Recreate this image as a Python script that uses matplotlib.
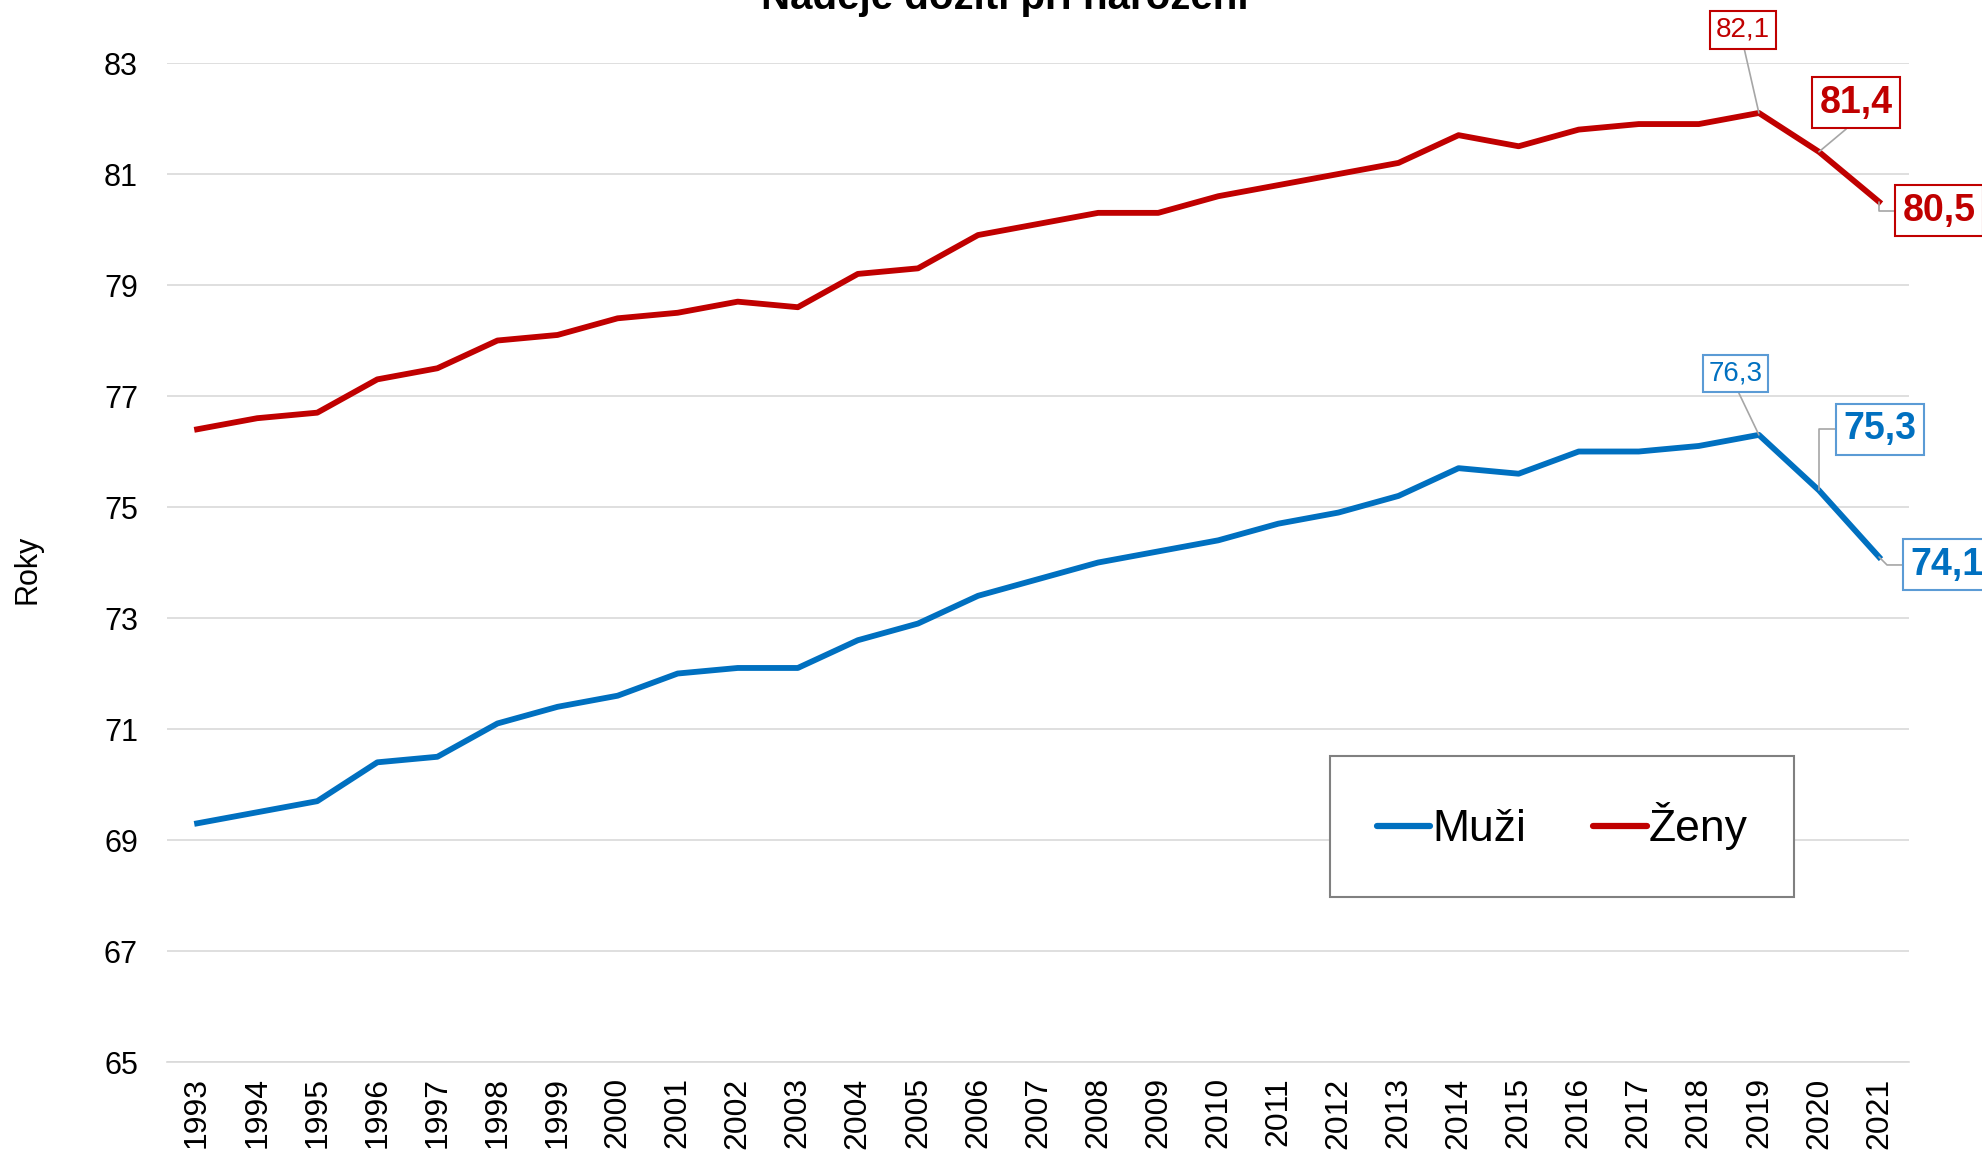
import numpy as np
import matplotlib.pyplot as plt

plt.rcParams['font.family'] = ['Liberation Sans', 'DejaVu Sans']

years = list(range(1993, 2022))
muzi = [69.3, 69.5, 69.7, 70.4, 70.5, 71.1, 71.4, 71.6, 72.0, 72.1,
        72.1, 72.6, 72.9, 73.4, 73.7, 74.0, 74.2, 74.4, 74.7, 74.9,
        75.2, 75.7, 75.6, 76.0, 76.0, 76.1, 76.3, 75.3, 74.1]
zeny = [76.4, 76.6, 76.7, 77.3, 77.5, 78.0, 78.1, 78.4, 78.5, 78.7,
        78.6, 79.2, 79.3, 79.9, 80.1, 80.3, 80.3, 80.6, 80.8, 81.0,
        81.2, 81.7, 81.5, 81.8, 81.9, 81.9, 82.1, 81.4, 80.5]
yticks = [65, 67, 69, 71, 73, 75, 77, 79, 81, 83]

blue = '#0070C0'
red = '#C00000'
grey = '#A6A6A6'

fig = plt.figure(figsize=(19.82, 11.54), dpi=100)
ax = fig.add_axes([0.0843, 0.0797, 0.8789, 0.8657])

ax.plot(years, muzi, color=blue, lw=4.2, label='Muži', solid_joinstyle='round')
ax.plot(years, zeny, color=red, lw=4.2, label='Ženy', solid_joinstyle='round')

ax.set_xlim(1992.5, 2021.5)
ax.set_ylim(65, 83)
ax.set_yticks(yticks)
ax.set_xticks(years)
ax.set_xticklabels([str(y) for y in years], rotation=90, fontsize=23)
ax.tick_params(axis='y', labelsize=22, length=0, pad=21)
ax.tick_params(axis='x', length=0, pad=11)
ax.grid(axis='y', color='#D9D9D9', lw=1.2)
ax.set_axisbelow(True)
for s in ['top', 'right', 'left']:
    ax.spines[s].set_visible(False)
ax.spines['bottom'].set_color('#D9D9D9')
ax.spines['bottom'].set_linewidth(1.2)

fig.text(0.0141, 0.507, 'Roky', rotation=90, fontsize=22, ha='center', va='center')
# title sits mostly above the top edge, as in the original
fig.text(0.507, 0.9925, 'Naděje dožití při narození', fontsize=29, fontweight='bold',
         ha='center', va='baseline')

# value labels for the last years
def label(x, y, txt, dx, dy, col, edge, size, bold, conn, relpos):
    ax.annotate(txt, xy=(x, y), xytext=(dx, dy), textcoords='offset pixels',
                ha='center', va='center', fontsize=size, color=col,
                fontweight='bold' if bold else 'normal', annotation_clip=False,
                bbox=dict(boxstyle='square,pad=0.2', fc='white', ec=edge, lw=1.5),
                arrowprops=dict(arrowstyle='-', color=grey, lw=1.2, shrinkA=0, shrinkB=0,
                                connectionstyle=conn, relpos=relpos))

label(2019, zeny[-3], '82,1', -16, 83, red, red, 20, False, 'arc3', (0.5, 0))
label(2020, zeny[-2], '81,4', 37, 49, red, red, 27, True, 'arc3', (0.5, 0))
label(2021, zeny[-1], '80,5', 60, -9, red, red, 27, True, 'angle,angleA=0,angleB=90,rad=0', (0, 0.5))
label(2019, muzi[-3], '76,3', -23, 61, blue, '#5B9BD5', 20, False, 'arc3', (0.5, 0))
label(2020, muzi[-2], '75,3', 61, 61, blue, '#5B9BD5', 27, True, 'angle,angleA=0,angleB=90,rad=0', (0, 0.5))
label(2021, muzi[-1], '74,1', 68, -8, blue, '#5B9BD5', 27, True, 'angle,angleA=0,angleB=-45,rad=0', (0, 0.5))

leg = ax.legend(loc='center', bbox_to_anchor=(0.801, 0.236), ncol=2, fontsize=32,
                frameon=True, fancybox=False, framealpha=1, edgecolor='#808080',
                handlelength=1.2, handletextpad=0.05, columnspacing=1.5, borderpad=1.05)
leg.get_frame().set_linewidth(1.5)
for h in leg.get_lines():
    h.set_linewidth(4.5)
    h.set_solid_capstyle('round')

plt.savefig('out.png', dpi=100)
